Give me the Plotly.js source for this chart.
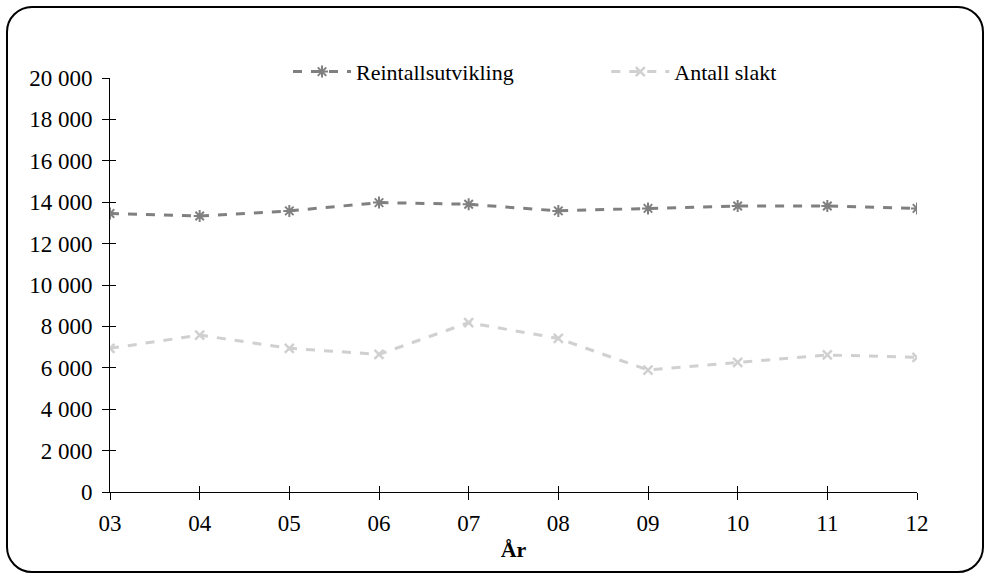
<!DOCTYPE html>
<html>
<head>
<meta charset="utf-8">
<script src="https://cdn.plot.ly/plotly-3.0.1.min.js"></script>
<style>
  html, body { margin: 0; padding: 0; background: #fff; }
  #wrap { position: relative; width: 989px; height: 578px; }
  #plot { position: absolute; left: 0; top: 0; width: 989px; height: 578px; }
  #frame { position: absolute; left: 6px; top: 6px; width: 974px; height: 563px;
           border: 2px solid #000; border-radius: 26px; pointer-events: none; }
</style>
</head>
<body>
<div id="wrap">
  <div id="plot"></div>
  <div id="frame"></div>
</div>
<script>
const years = ["03", "04", "05", "06", "07", "08", "09", "10", "11", "12"];
const reintall = [13450, 13330, 13580, 13980, 13900, 13580, 13700, 13820, 13820, 13700];
const slakt = [6940, 7580, 6940, 6650, 8180, 7420, 5890, 6260, 6620, 6500];
const seriesNames = ["Reintallsutvikling", "Antall slakt"];
const yTickVals = [0, 2000, 4000, 6000, 8000, 10000, 12000, 14000, 16000, 18000, 20000];
const yTickText = ["0", "2 000", "4 000", "6 000", "8 000", "10 000", "12 000", "14 000", "16 000", "18 000", "20 000"];
const xTitle = "År";

const fam = "'Liberation Serif', 'Times New Roman', serif";
const font = { family: fam, size: 23, color: "#000" };
const legFont = { family: fam, size: 22, color: "#000" };

const traces = [
  {
    x: years, y: reintall, name: seriesNames[0], type: "scatter", mode: "lines+markers",
    line: { color: "#808080", width: 3, dash: "dash" },
    marker: { symbol: "asterisk-open", size: 10, color: "#808080", line: { color: "#808080", width: 2 } },
    hoverinfo: "skip", legend: "legend"
  },
  {
    x: years, y: slakt, name: seriesNames[1], type: "scatter", mode: "lines+markers",
    line: { color: "#d0d0d0", width: 3, dash: "dash" },
    marker: { symbol: "x-thin-open", size: 9, color: "#d0d0d0", line: { color: "#d0d0d0", width: 2.5 } },
    hoverinfo: "skip", legend: "legend2"
  },
  { x: [], y: [], xaxis: "x2", yaxis: "y2", showlegend: false, hoverinfo: "skip", type: "scatter" }
];

const layout = {
  width: 989, height: 578,
  margin: { l: 110, r: 72, t: 78, b: 86 },
  paper_bgcolor: "#fff", plot_bgcolor: "#fff",
  font: font,
  showlegend: true,
  legend: {
    orientation: "h", x: 0.2206, xanchor: "left", y: 1.015, yanchor: "middle",
    font: legFont, bgcolor: "rgba(0,0,0,0)", itemwidth: 58
  },
  legend2: {
    orientation: "h", x: 0.615, xanchor: "left", y: 1.015, yanchor: "middle",
    font: legFont, bgcolor: "rgba(0,0,0,0)", itemwidth: 58
  },
  xaxis: {
    type: "category", range: [0, 9], showgrid: false, zeroline: false,
    showline: true, linecolor: "#000", linewidth: 1,
    ticks: "outside", ticklen: 7, tickcolor: "#000", tickwidth: 1,
    tickfont: font, ticklabelstandoff: 3,
    title: { text: "<b>" + xTitle + "</b>", font: { family: fam, size: 22, color: "#000" }, standoff: 7 }
  },
  yaxis: {
    range: [0, 20000], tickvals: yTickVals, ticktext: yTickText,
    showgrid: false, zeroline: false,
    showline: true, linecolor: "#000", linewidth: 1,
    ticks: "outside", ticklen: 7, tickcolor: "#000", tickwidth: 1,
    tickfont: font, ticklabelstandoff: 5
  },
  xaxis2: {
    overlaying: "x", anchor: "y2", range: [0, 9], tickvals: [0,1,2,3,4,5,6,7,8,9],
    showticklabels: false, showgrid: false, zeroline: false, showline: false,
    ticks: "inside", ticklen: 6, tickcolor: "#000", tickwidth: 1
  },
  yaxis2: {
    overlaying: "y", anchor: "x2", side: "left", range: [0, 20000], tickvals: yTickVals,
    showticklabels: false, showgrid: false, zeroline: false, showline: false,
    ticks: "inside", ticklen: 6, tickcolor: "#000", tickwidth: 1
  }
};

Plotly.newPlot("plot", traces, layout, { displayModeBar: false, staticPlot: true });
</script>
</body>
</html>
